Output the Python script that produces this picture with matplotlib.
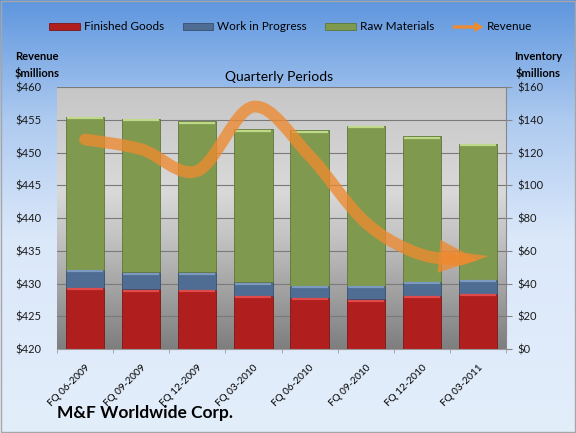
import numpy as np
import matplotlib
matplotlib.use('Agg')
import matplotlib.pyplot as plt
import matplotlib.patches as mpatches
from matplotlib.path import Path
from matplotlib.colors import LinearSegmentedColormap
from matplotlib.legend_handler import HandlerPatch

plt.rcParams['font.family'] = ['Lato', 'DejaVu Sans']

# Data
quarters = ['FQ 06-2009', 'FQ 09-2009', 'FQ 12-2009', 'FQ 03-2010',
            'FQ 06-2010', 'FQ 09-2010', 'FQ 12-2010', 'FQ 03-2011']
finished_goods = [37.4, 36.4, 36.0, 32.5, 31.1, 30.3, 32.6, 33.5]
work_in_progress = [10.8, 10.4, 10.8, 8.2, 7.6, 8.4, 8.4, 8.6]
raw_materials = [93.7, 93.7, 92.2, 93.5, 94.9, 97.7, 88.8, 83.3]
revenue = [452.0, 450.5, 447.2, 457.0, 449.5, 439.3, 434.4, 433.6]

c_red, c_blue, c_green = '#B01E1E', '#4F6D92', '#7F9A4F'
c_orange = '#EE8A30'

fig = plt.figure(figsize=(5.76, 4.33), dpi=100)

# Figure background gradient
bg = fig.add_axes([0, 0, 1, 1], zorder=-10)
bg_cmap = LinearSegmentedColormap.from_list(
    'bg', [(0, '#E3EEFB'), (0.45, '#DBE8FA'), (0.72, '#AFCBF0'), (1, '#5E96DE')])
bg.imshow(np.linspace(0, 1, 256).reshape(-1, 1), aspect='auto', cmap=bg_cmap,
          extent=(0, 1, 0, 1))
bg.set_xlim(0, 1)
bg.set_ylim(1, 0)
bg.axis('off')
fig.patches.append(mpatches.Rectangle((0.002, 0.002), 0.996, 0.995, transform=fig.transFigure,
                                      fill=False, edgecolor='#A6A6A6', lw=1))

# Inventory axis (right) holds the bars, revenue axis (left) holds the line
ax = fig.add_axes([0.099, 0.194, 0.7795, 0.605])
ax2 = ax.twinx()

x = np.arange(len(quarters))
pa_cmap = LinearSegmentedColormap.from_list(
    'pa', [(0, '#7E7E7E'), (0.42, '#C2C2C2'), (0.6, '#D9D9D9'), (1, '#C6C6C6')])
ax.imshow(np.linspace(0, 1, 256).reshape(-1, 1), aspect='auto', cmap=pa_cmap,
          extent=(-0.5, 7.5, 0, 160), origin='lower', zorder=-2)
ax.patch.set_visible(False)

fg = np.array(finished_goods)
wip = np.array(work_in_progress)
raw = np.array(raw_materials)
w = 0.68
ax.bar(x, fg, w, color=c_red, edgecolor='#7D1515', lw=0.6, zorder=2)
ax.bar(x, wip, w, bottom=fg, color=c_blue, edgecolor='#36506E', lw=0.6, zorder=2)
ax.bar(x, raw, w, bottom=fg + wip, color=c_green, edgecolor='#5E7638', lw=0.6, zorder=2)
# bevel highlights
ax.hlines(fg - 0.8, x - w / 2 + 0.02, x + w / 2 - 0.02, color='#E04A4A', lw=1.6, zorder=3)
ax.hlines(fg + wip - 0.8, x - w / 2 + 0.02, x + w / 2 - 0.02, color='#7C9AC0', lw=1.6, zorder=3)
ax.hlines(fg + wip + raw - 0.8, x - w / 2 + 0.02, x + w / 2 - 0.02, color='#BFD88A', lw=1.6, zorder=3)

ax.set_xlim(-0.5, 7.5)
ax.set_ylim(0, 160)
ax.set_yticks(np.arange(0, 161, 20))
ax.set_yticklabels(['$%d' % v for v in range(0, 161, 20)])
ax.yaxis.tick_right()
ax.yaxis.grid(True, color='#7A7A7A', lw=0.8)
ax.set_axisbelow(True)
ax.tick_params(axis='y', right=True, left=False, length=4, width=0.8, color='#868686',
               labelsize=8, pad=4, labelcolor='#1a1a1a')
ax.set_xticks(x)
ax.set_xticklabels(quarters, rotation=45, ha='right', rotation_mode='anchor', fontsize=7.2)
ax.set_xticks(np.arange(-0.5, 8, 1), minor=True)
ax.tick_params(axis='x', which='major', length=0, pad=10)
ax.tick_params(axis='x', which='minor', length=3, color='#9A9A9A')
for s in ['top', 'left']:
    ax.spines[s].set_visible(False)
ax.spines['right'].set_color('#868686')
ax.spines['bottom'].set_color('#9A9A9A')

ax2.set_ylim(420, 460)
ax2.set_yticks(np.arange(420, 461, 5))
ax2.set_yticklabels(['$%d' % v for v in range(420, 461, 5)])
ax2.yaxis.tick_left()
ax2.tick_params(axis='y', left=False, right=False, labelsize=8, pad=8, labelcolor='#1a1a1a')
for s in ax2.spines.values():
    s.set_visible(False)

# Smoothed revenue line (Bezier through the points) ending in an arrow
pts = np.column_stack([x, revenue]).astype(float)
verts = [pts[0]]
codes = [Path.MOVETO]
for i in range(len(pts) - 1):
    p0 = pts[max(i - 1, 0)]
    p1 = pts[i]
    p2 = pts[i + 1]
    p3 = pts[min(i + 2, len(pts) - 1)]
    verts += [p1 + (p2 - p0) / 6, p2 - (p3 - p1) / 6, p2]
    codes += [Path.CURVE4] * 3
arrow = mpatches.FancyArrowPatch(path=Path(verts, codes),
                                 arrowstyle='-|>,head_length=13,head_width=5.5',
                                 mutation_scale=1, color=c_orange, lw=8.5, alpha=0.78,
                                 capstyle='round', joinstyle='miter', zorder=5)
ax2.add_patch(arrow)

# Text
fig.text(0.484, 0.822, 'Quarterly Periods', ha='center', va='center', fontsize=10)
fig.text(0.064, 0.85, 'Revenue\n$millions', ha='center', va='center', fontsize=8,
         fontweight='bold', linespacing=1.5)
fig.text(0.934, 0.85, 'Inventory\n$millions', ha='center', va='center', fontsize=8,
         fontweight='bold', linespacing=1.5)
fig.text(0.099, 0.046, 'M&F Worldwide Corp.', ha='left', va='center', fontsize=12.5,
         fontweight='bold')


# Legend
def make_arrow(legend, orig_handle, xdescent, ydescent, width, height, fontsize):
    return mpatches.FancyArrow(0, height / 2, width, 0, width=height * 0.5,
                               head_width=height * 1.5, head_length=width * 0.3,
                               length_includes_head=True, lw=0)


handles = [mpatches.Patch(facecolor=c_red, edgecolor='#7D1515', lw=0.6),
           mpatches.Patch(facecolor=c_blue, edgecolor='#36506E', lw=0.6),
           mpatches.Patch(facecolor=c_green, edgecolor='#5E7638', lw=0.6),
           mpatches.FancyArrow(0, 0, 1, 0, color=c_orange, lw=0)]
labels = ['Finished Goods', 'Work in Progress', 'Raw Materials', 'Revenue']
fig.legend(handles, labels, loc='center', bbox_to_anchor=(0.505, 0.938), ncol=4,
           frameon=False, fontsize=8.5, handlelength=2.6, handleheight=0.5,
           handletextpad=0.3, columnspacing=1.6,
           handler_map={mpatches.FancyArrow: HandlerPatch(patch_func=make_arrow)})

fig.savefig('out.png', dpi=100)
